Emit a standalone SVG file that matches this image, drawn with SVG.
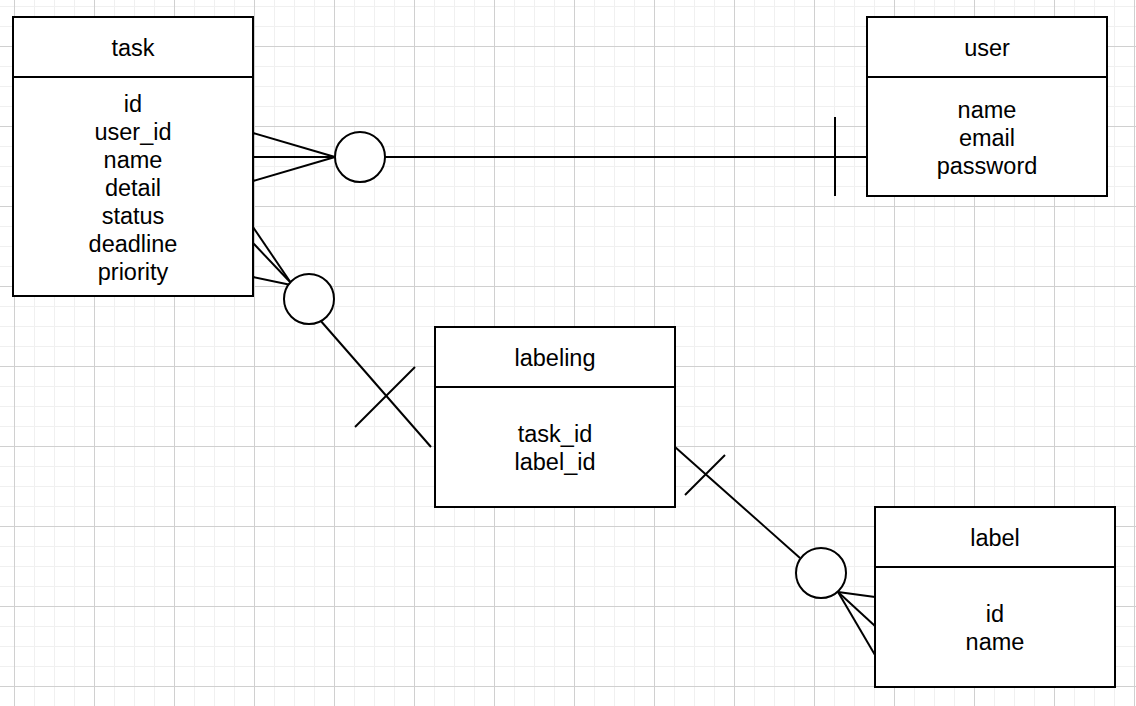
<svg xmlns="http://www.w3.org/2000/svg" width="1136" height="706" viewBox="0 0 1136 706">
  <defs>
    <pattern id="minor" patternUnits="userSpaceOnUse" x="14" y="6" width="20" height="20">
      <path d="M0 0V20M0 0H20" fill="none" stroke="#f0f0f0" stroke-width="2"/>
    </pattern>
    <pattern id="major" patternUnits="userSpaceOnUse" x="14" y="46" width="80" height="80">
      <path d="M0.5 0V80M0 0.5H80" fill="none" stroke="#d0d0d0" stroke-width="1"/>
    </pattern>
    <style>
      .box { fill: #ffffff; stroke: #000000; stroke-width: 2; }
      .sep { stroke: #000000; stroke-width: 2; }
      .ln { fill: none; stroke: #000000; stroke-width: 2; }
      .circ { fill: #ffffff; stroke: #000000; stroke-width: 2; }
      text { font-family: "Liberation Sans", Helvetica, Arial, sans-serif; font-size: 23.5px; fill: #000000; text-anchor: middle; }
    </style>
  </defs>
  <rect width="1136" height="706" fill="#ffffff"/>
  <rect width="1136" height="706" fill="url(#minor)"/>
  <rect width="1136" height="706" fill="url(#major)"/>

  <g id="connectors">
    <!-- task - user -->
    <line class="ln" x1="253" y1="157" x2="867" y2="157"/>
    <line class="ln" x1="253" y1="133" x2="335" y2="157"/>
    <line class="ln" x1="253" y1="181" x2="335" y2="157"/>
    <line class="ln" x1="835" y1="117" x2="835" y2="196"/>
    <circle class="circ" cx="360" cy="157" r="25"/>
    <!-- task - labeling -->
    <line class="ln" x1="253" y1="227" x2="291" y2="283"/>
    <line class="ln" x1="253" y1="243" x2="291" y2="283"/>
    <line class="ln" x1="253" y1="277" x2="291" y2="285"/>
    <line class="ln" x1="320" y1="320" x2="431" y2="447"/>
    <line class="ln" x1="355" y1="427" x2="415" y2="367"/>
    <circle class="circ" cx="309" cy="299" r="25"/>
    <!-- labeling - label -->
    <line class="ln" x1="675" y1="447" x2="800" y2="558"/>
    <line class="ln" x1="685" y1="495" x2="725" y2="455"/>
    <line class="ln" x1="838" y1="592" x2="875" y2="597"/>
    <line class="ln" x1="838" y1="592" x2="875" y2="626"/>
    <line class="ln" x1="838" y1="592" x2="875" y2="655"/>
    <circle class="circ" cx="821" cy="573" r="25"/>
  </g>

  <g id="task">
    <rect class="box" x="13" y="17" width="240" height="279"/>
    <line class="sep" x1="13" y1="77" x2="253" y2="77"/>
    <text x="133" y="56">task</text>
    <text x="133" y="112">id</text>
    <text x="133" y="140">user_id</text>
    <text x="133" y="168">name</text>
    <text x="133" y="196">detail</text>
    <text x="133" y="224">status</text>
    <text x="133" y="252">deadline</text>
    <text x="133" y="280">priority</text>
  </g>

  <g id="user">
    <rect class="box" x="867" y="17" width="240" height="179"/>
    <line class="sep" x1="867" y1="77" x2="1107" y2="77"/>
    <text x="987" y="56">user</text>
    <text x="987" y="118">name</text>
    <text x="987" y="146">email</text>
    <text x="987" y="174">password</text>
  </g>

  <g id="labeling">
    <rect class="box" x="435" y="327" width="240" height="180"/>
    <line class="sep" x1="435" y1="387" x2="675" y2="387"/>
    <text x="555" y="366">labeling</text>
    <text x="555" y="442">task_id</text>
    <text x="555" y="470">label_id</text>
  </g>

  <g id="label">
    <rect class="box" x="875" y="507" width="240" height="180"/>
    <line class="sep" x1="875" y1="567" x2="1115" y2="567"/>
    <text x="995" y="546">label</text>
    <text x="995" y="622">id</text>
    <text x="995" y="650">name</text>
  </g>
</svg>
